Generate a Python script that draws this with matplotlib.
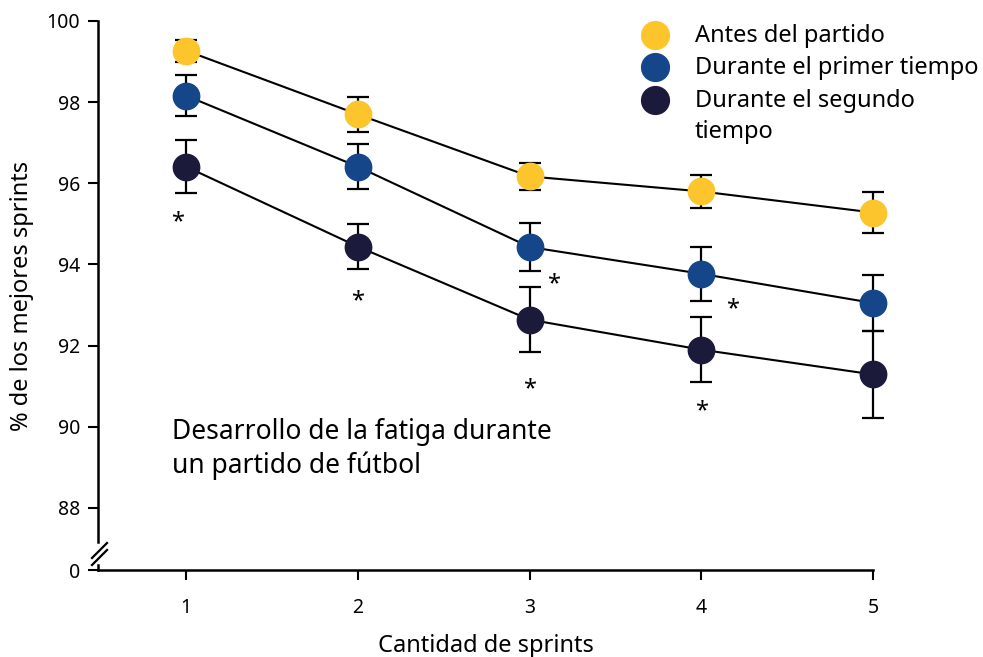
import matplotlib
matplotlib.use("Agg")
import matplotlib.pyplot as plt

plt.rcParams['font.family'] = ['Noto Sans', 'DejaVu Sans']

sprints = [1, 2, 3, 4, 5]

antes = [99.27, 97.70, 96.17, 95.80, 95.28]
antes_err = [0.27, 0.43, 0.33, 0.40, 0.50]

primer = [98.16, 96.41, 94.43, 93.77, 93.05]
primer_err = [0.50, 0.55, 0.60, 0.67, 0.70]

segundo = [96.41, 94.44, 92.64, 91.90, 91.29]
segundo_err = [0.65, 0.55, 0.80, 0.80, 1.08]

# significance markers
sig_x = [0.95, 2.0, 3.0, 3.14, 4.0, 4.18]
sig_y = [95.05, 93.10, 90.93, 93.50, 90.38, 92.90]

labels = ["Antes del partido", "Durante el primer tiempo", "Durante el segundo\ntiempo"]
colors = ["#fdc52c", "#154689", "#1b1a3a"]

y_ticks = [88, 90, 92, 94, 96, 98, 100]
y_bottom = 86.47

fig = plt.figure(figsize=(9.83, 6.57), dpi=100)
ax = fig.add_axes([98 / 983, 1 - 570 / 657, 775 / 983, 549 / 657])

for vals, errs, col in zip([antes, primer, segundo], [antes_err, primer_err, segundo_err], colors):
    ax.plot(sprints, vals, color="black", lw=1.5, zorder=2, clip_on=False)
    ax.errorbar(sprints, vals, yerr=errs, fmt="none", ecolor="black", elinewidth=1.6,
                capsize=8, capthick=1.6, zorder=3, clip_on=False)
    ax.plot(sprints, vals, "o", color=col, ms=19, mec=col, zorder=4, clip_on=False)

for sx, sy in zip(sig_x, sig_y):
    ax.text(sx, sy, "*", ha="center", va="center", fontsize=17, color="black")

ax.set_xlim(0.487, 5.0)
ax.set_ylim(y_bottom, 100)
ax.set_xticks(sprints)
ax.set_yticks([y_bottom] + y_ticks)
ax.set_yticklabels(["0"] + [str(t) for t in y_ticks])
ax.tick_params(axis="both", length=7, width=1.5, labelsize=14, color="black")
ax.tick_params(axis="x", pad=13)
ax.tick_params(axis="y", pad=6)

for s in ["top", "right"]:
    ax.spines[s].set_visible(False)
ax.spines["bottom"].set_linewidth(1.8)
ax.spines["left"].set_linewidth(1.8)
ax.spines["left"].set_bounds(87.15, 100)

# short piece of axis under the break and the break slashes
ax.plot([0, 0], [y_bottom, 86.6], color="black", lw=1.8, clip_on=False,
        transform=ax.get_yaxis_transform())
w, h = 775.0, 549.0
for dy in [0, -7]:
    ax.plot([-6 / w, 9 / w], [(12 + dy) / h, (27 + dy) / h], color="black", lw=1.6,
            clip_on=False, transform=ax.transAxes)

ax.set_ylabel("% de los mejores sprints", fontsize=17, labelpad=9)
ax.set_xlabel("Cantidad de sprints", fontsize=17, labelpad=12)

ax.text(172 / 983, 1 - 449 / 657, "Desarrollo de la fatiga durante\nun partido de fútbol",
        transform=fig.transFigure, fontsize=19, va="center", ha="left", linespacing=1.25)

# legend drawn by hand so the marker sits on the first line of a wrapped label
leg_y = [35, 67, 100]
for yy, lab, col in zip(leg_y, labels, colors):
    fig.add_artist(plt.Line2D([655 / 983], [1 - yy / 657], ls="none", marker="o", ms=20,
                              color=col, transform=fig.transFigure))
    fig.text(695 / 983, 1 - (yy - 11) / 657, lab, fontsize=17, ha="left", va="top",
             linespacing=1.38)

fig.savefig("out.png", dpi=100)
